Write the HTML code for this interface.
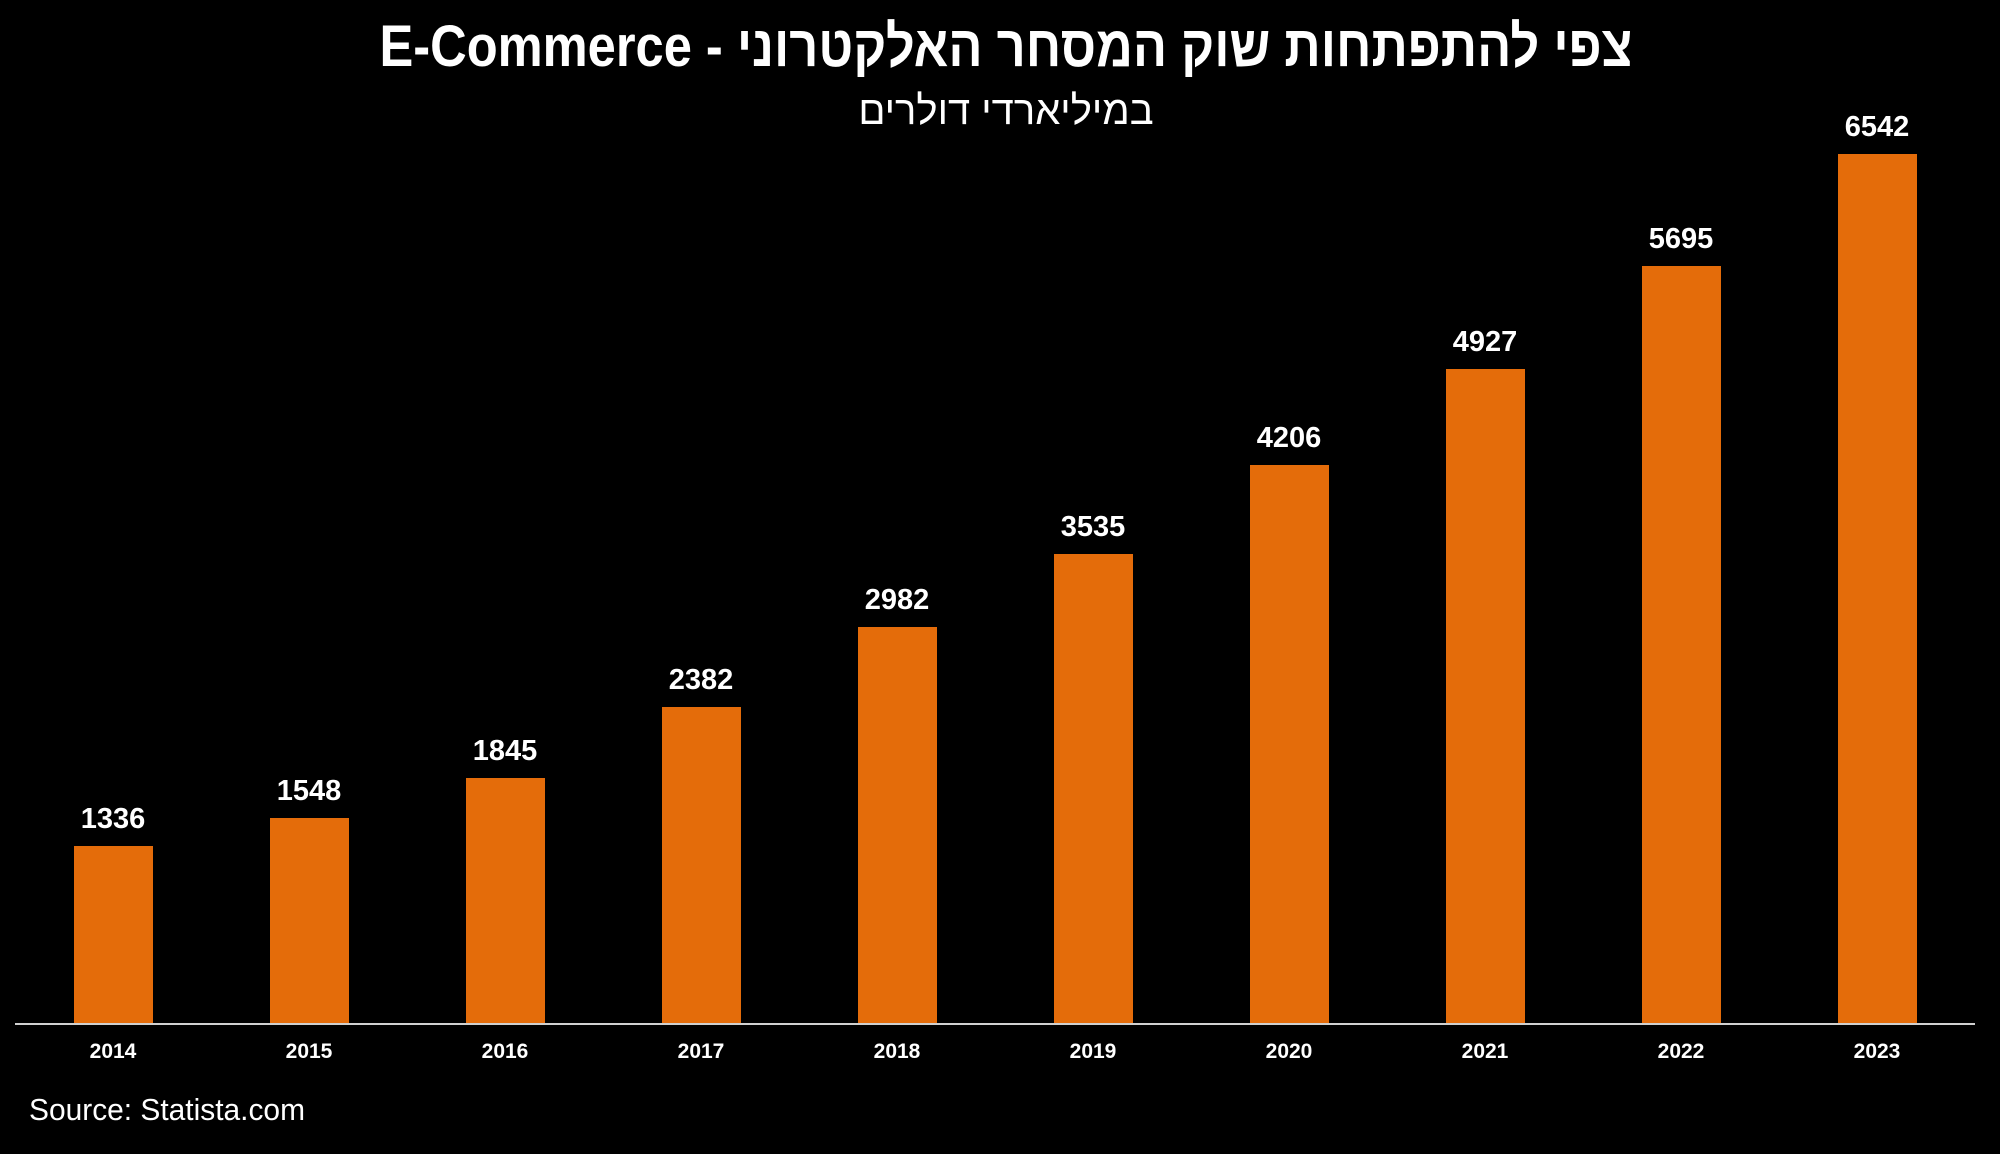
<!DOCTYPE html>
<html><head><meta charset="utf-8"><style>
body{margin:0;background:#000;}
svg{display:block}
</style></head><body>
<svg width="2000" height="1154" xmlns="http://www.w3.org/2000/svg">
<rect width="2000" height="1154" fill="#000"/>
<text x="1006" y="66" text-anchor="middle" fill="#fff" font-family="'Liberation Sans Narrow','Liberation Sans',sans-serif" font-weight="bold" font-size="58" textLength="1253" lengthAdjust="spacingAndGlyphs">E-Commerce - צפי להתפתחות שוק המסחר האלקטרוני</text>
<text x="1006" y="124" text-anchor="middle" fill="#fff" font-family="'Liberation Sans Narrow','Liberation Sans',sans-serif" font-size="40" direction="rtl">במיליארדי דולרים</text>
<line x1="15" y1="1024" x2="1975" y2="1024" stroke="#d0d0d0" stroke-width="2"/>
<g fill="#e46c0a">
<rect x="74" y="846" width="79" height="177"/>
<rect x="270" y="818" width="79" height="205"/>
<rect x="466" y="778" width="79" height="245"/>
<rect x="662" y="707" width="79" height="316"/>
<rect x="858" y="627" width="79" height="396"/>
<rect x="1054" y="554" width="79" height="469"/>
<rect x="1250" y="465" width="79" height="558"/>
<rect x="1446" y="369" width="79" height="654"/>
<rect x="1642" y="266" width="79" height="757"/>
<rect x="1838" y="154" width="79" height="869"/>
</g>
<g fill="#fff" font-family="'Liberation Sans Narrow','Liberation Sans',sans-serif" font-weight="bold" font-size="29" text-anchor="middle">
<text x="113" y="828">1336</text>
<text x="309" y="800">1548</text>
<text x="505" y="760">1845</text>
<text x="701" y="689">2382</text>
<text x="897" y="609">2982</text>
<text x="1093" y="536">3535</text>
<text x="1289" y="447">4206</text>
<text x="1485" y="351">4927</text>
<text x="1681" y="248">5695</text>
<text x="1877" y="136">6542</text>
</g>
<g fill="#fff" font-family="'Liberation Sans Narrow','Liberation Sans',sans-serif" font-weight="bold" font-size="21" text-anchor="middle">
<text x="113" y="1058">2014</text>
<text x="309" y="1058">2015</text>
<text x="505" y="1058">2016</text>
<text x="701" y="1058">2017</text>
<text x="897" y="1058">2018</text>
<text x="1093" y="1058">2019</text>
<text x="1289" y="1058">2020</text>
<text x="1485" y="1058">2021</text>
<text x="1681" y="1058">2022</text>
<text x="1877" y="1058">2023</text>
</g>
<text x="29" y="1120" fill="#fff" font-family="'Liberation Sans Narrow','Liberation Sans',sans-serif" font-size="31" textLength="276" lengthAdjust="spacingAndGlyphs">Source: Statista.com</text>
</svg>
</body></html>
